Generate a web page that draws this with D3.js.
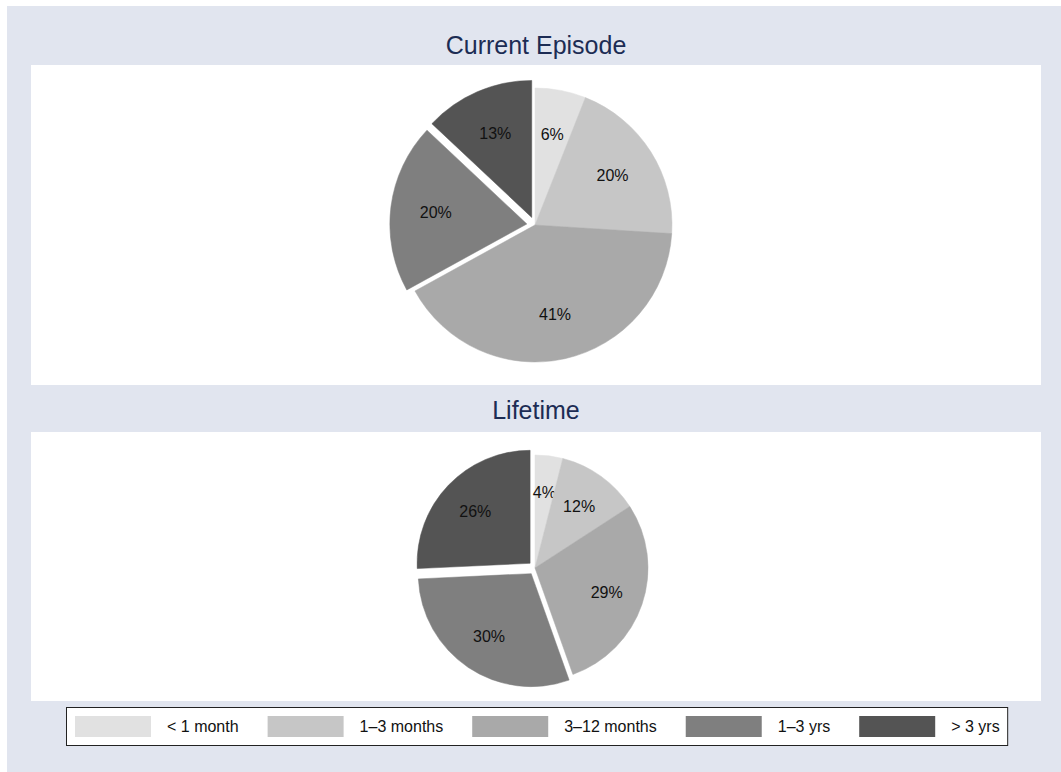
<!DOCTYPE html>
<html>
<head>
    <script src="https://d3js.org/d3.v7.min.js"></script>
    <style>
        body { margin: 0; background: #fff; }
        text { font-family: "Liberation Sans", Arial, sans-serif; }
    </style>
</head>
<body>
    <svg width="1061" height="772"></svg>
    <script>
        // data
        var categories = ["< 1 month", "1\u20133 months", "3\u201312 months", "1\u20133 yrs", "> 3 yrs"];
        var currentEpisode = [6, 20, 41, 20, 13];
        var lifetime = [4, 12, 29, 30, 26];
        var exploded = [false, false, false, true, true];
        var panelTitles = ["Current Episode", "Lifetime"];

        var svg = d3.select("svg");

        var color = d3.scaleOrdinal()
            .domain(categories)
            .range(["#e1e1e1", "#c6c6c6", "#a9a9a9", "#7f7f7f", "#545454"]);

        // outer graph region
        svg.append("rect")
            .attr("x", 7).attr("y", 6)
            .attr("width", 1054).attr("height", 766)
            .attr("fill", "#e1e5ef");

        var panels = [
            {title: panelTitles[0], values: currentEpisode, top: 65, bottom: 385, cx: 535, cy: 225, r: 137, titleY: 54},
            {title: panelTitles[1], values: lifetime, top: 432, bottom: 701, cx: 535, cy: 568, r: 113, titleY: 419}
        ];

        var pie = d3.pie().sort(null).value(function(d) { return d.value; });

        panels.forEach(function(p) {
            svg.append("rect")
                .attr("x", 31).attr("y", p.top)
                .attr("width", 1010).attr("height", p.bottom - p.top)
                .attr("fill", "#fff");

            svg.append("text")
                .attr("x", 536).attr("y", p.titleY)
                .attr("text-anchor", "middle")
                .attr("font-size", 25)
                .attr("fill", "#1c2c54")
                .text(p.title);

            var rows = categories.map(function(c, i) {
                return {cat: c, value: p.values[i], explode: exploded[i]};
            });

            var arc = d3.arc().innerRadius(0).outerRadius(p.r);
            var labelArc = d3.arc().innerRadius(p.r * 0.67).outerRadius(p.r * 0.67);
            var off = p.r * 0.06;

            var g = svg.append("g")
                .attr("transform", "translate(" + p.cx + "," + p.cy + ")");

            var slice = g.selectAll(".slice")
                .data(pie(rows))
                .enter().append("g")
                .attr("class", "slice")
                .attr("transform", function(d) {
                    if (!d.data.explode) return null;
                    var a = (d.startAngle + d.endAngle) / 2;
                    return "translate(" + (Math.sin(a) * off) + "," + (-Math.cos(a) * off) + ")";
                });

            slice.append("path")
                .attr("d", arc)
                .attr("fill", function(d) { return color(d.data.cat); })
                .attr("stroke", function(d) { return color(d.data.cat); })
                .attr("stroke-width", 0.5);

            slice.append("text")
                .attr("transform", function(d) { return "translate(" + labelArc.centroid(d) + ")"; })
                .attr("text-anchor", "middle")
                .attr("dy", "0.35em")
                .attr("font-size", 16)
                .attr("fill", "#111")
                .text(function(d) { return d.data.value + "%"; });
        });

        // legend
        var legend = svg.append("g");
        var box = legend.append("rect")
            .attr("x", 66.5).attr("y", 707.5)
            .attr("height", 38)
            .attr("fill", "#fff")
            .attr("stroke", "#222")
            .attr("stroke-width", 1);

        var lx = 75, colGap = 29;
        categories.forEach(function(c) {
            legend.append("rect")
                .attr("x", lx).attr("y", 716)
                .attr("width", 76).attr("height", 21)
                .attr("fill", color(c));
            var t = legend.append("text")
                .attr("x", lx + 92).attr("y", 726.5)
                .attr("dy", "0.35em")
                .attr("font-size", 16)
                .attr("fill", "#111")
                .text(c);
            var w = t.node().getComputedTextLength();
            lx = lx + 92 + w + colGap;
        });
        box.attr("width", lx - colGap + 8 - 66.5);
    </script>
</body>
</html>
